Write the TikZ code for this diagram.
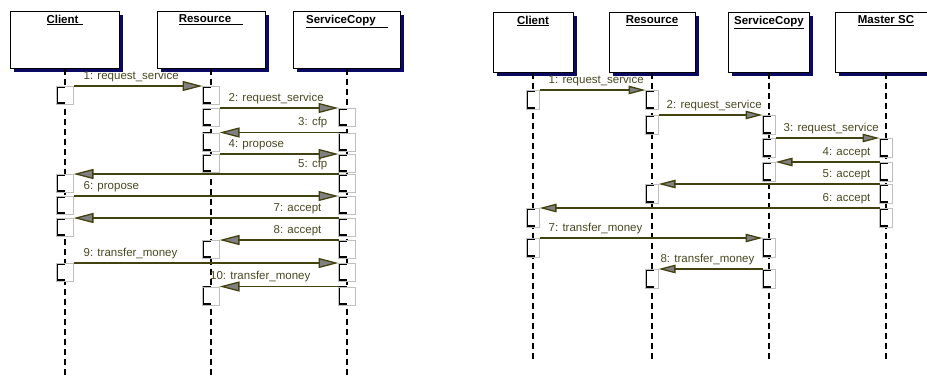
\documentclass[tikz,border=0pt]{standalone}
\usepackage{fontspec}
\setmainfont{Liberation Sans}
\usetikzlibrary{arrows.meta,shadows}
\definecolor{msgline}{RGB}{66,66,16}
\definecolor{msgtext}{RGB}{72,72,34}
\definecolor{shade}{RGB}{10,10,100}

\begin{document}
\begin{tikzpicture}[x=1pt, y=-1pt, font=\fontsize{11.5}{13}\selectfont,
    obj/.style={draw, line width=1pt, fill=white, inner sep=0pt,
        drop shadow={shadow xshift=3.5pt, shadow yshift=-3.5pt, fill=shade, opacity=1}},
    title/.style={anchor=north, inner sep=0pt, yshift=-4pt, font=\fontsize{11.5}{13}\selectfont\bfseries},
    life/.style={line width=1.3pt, dash pattern=on 6pt off 4pt},
    act/.style={draw=gray!50, fill=white, anchor=north, inner sep=0pt,
        path picture={\draw[black, line width=3.5pt]
            ([xshift=8pt]path picture bounding box.north west) -- (path picture bounding box.north west)
            -- (path picture bounding box.south west) -- ([xshift=8pt]path picture bounding box.south west);}},
    lact/.style={act, minimum width=17pt, minimum height=18pt},
    ract/.style={act, minimum width=13pt, minimum height=19pt},
    msg/.style={draw=msgline, line width=1.3pt},
    lmsg/.style={msg, shorten <=8.5pt, shorten >=8.5pt, -{Triangle[length=20pt, width=10pt, fill=gray]}},
    rmsg/.style={msg, shorten <=6.5pt, shorten >=6.5pt, -{Triangle[length=17pt, width=8.5pt, fill=gray]}},
    lbl/.style={text=msgtext, inner sep=0pt, yshift=3.5pt}]
    \useasboundingbox (0,0) rectangle (927,376);

    % left diagram
    \node[obj, minimum width=109pt, minimum height=57pt, label={[title]north:\underline{Client\hspace{5pt}}}] (lcl) at (65,39.5) {};
    \node[obj, minimum width=108pt, minimum height=57pt, label={[title]north:\underline{Resource\hspace{12pt}}}] (lrs) at (211,39.5) {};
    \node[obj, minimum width=107pt, minimum height=57pt, label={[title]north:\underline{ServiceCopy\hspace{12pt}}}] (lsc) at (347,39.5) {};
    \foreach \o in {lcl,lrs,lsc} {
        \coordinate (\o end) at (\o |- 0,380);
        \draw[life] (\o.south) -- (\o end);
    }
    \foreach \n/\y/\a/\b/\an/\dx/\t in {
        1/86/lcl/lrs/west/18pt/{1: request\_service},
        2/108/lrs/lsc/west/17pt/{2: request\_service},
        3/132.5/lsc/lrs/east/-19pt/{3: cfp},
        4/154/lrs/lsc/west/17pt/{4: propose},
        5/174/lsc/lcl/east/-19pt/{5: cfp},
        6/196/lcl/lsc/west/18pt/{6: propose},
        7/218/lsc/lcl/east/-25pt/{7: accept},
        8/240/lsc/lrs/east/-25pt/{8: accept},
        9/263/lcl/lsc/west/18pt/{9: transfer\_money},
        10/286.5/lsc/lrs/east/-36pt/{10: transfer\_money}} {
        \node[lact] (l\n s) at (\a |- 0,\y) {};
        \node[lact] (l\n r) at (\b |- 0,\y) {};
        \draw[lmsg] (l\n s.north) -- (l\n r.north) node[lbl, pos=0, anchor=south \an, xshift=\dx] {\t};
    }

    % right diagram
    \node[obj, minimum width=80pt, minimum height=60pt, label={[title]north:\underline{Client}}] (rcl) at (533,42) {};
    \node[obj, minimum width=86pt, minimum height=60pt, label={[title]north:\underline{Resource}}] (rrs) at (652,42) {};
    \node[obj, minimum width=81pt, minimum height=60pt, label={[title]north:\underline{ServiceCopy}}] (rsc) at (769,42) {};
    \node[obj, minimum width=102pt, minimum height=60pt, label={[title]north:\underline{Master SC}}] (rms) at (886,42) {};
    \foreach \o in {rcl,rrs,rsc,rms} {
        \coordinate (\o end) at (\o |- 0,362);
        \draw[life] (\o.south) -- (\o end);
    }
    \foreach \n/\y/\a/\b/\an/\dx/\t in {
        1/90/rcl/rrs/west/15pt/{1: request\_service},
        2/115/rrs/rsc/west/14pt/{2: request\_service},
        3/138/rsc/rms/west/14pt/{3: request\_service},
        4/162/rms/rsc/east/-15pt/{4: accept},
        5/184/rms/rrs/east/-15pt/{5: accept},
        6/208/rms/rcl/east/-15pt/{6: accept},
        7/238/rcl/rsc/west/15pt/{7: transfer\_money},
        8/269/rsc/rrs/east/-14pt/{8: transfer\_money}} {
        \node[ract] (r\n s) at (\a |- 0,\y) {};
        \node[ract] (r\n r) at (\b |- 0,\y) {};
        \draw[rmsg] (r\n s.north) -- (r\n r.north) node[lbl, pos=0, anchor=south \an, xshift=\dx] {\t};
    }
\end{tikzpicture}
\end{document}
